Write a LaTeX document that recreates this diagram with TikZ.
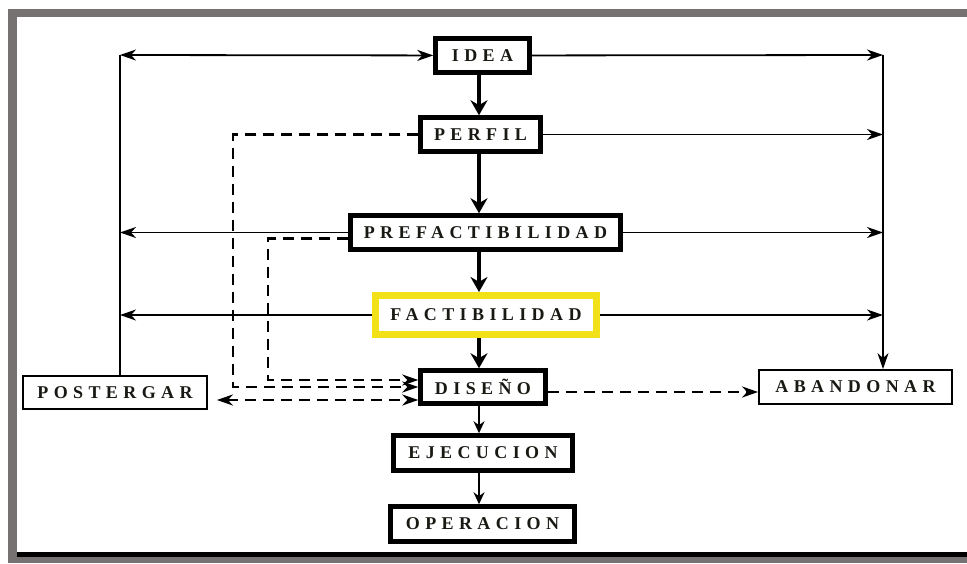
\documentclass[tikz,border=0pt]{standalone}
\usepackage{fontspec}
\usepackage{tikz}
\usetikzlibrary{arrows.meta}
\newfontfamily\etiqueta[LetterSpace=30]{Liberation Serif}
\definecolor{marco}{RGB}{118,114,113}
\definecolor{amarillo}{RGB}{242,224,24}
\definecolor{tinta}{RGB}{25,25,20}

\begin{document}
\begin{tikzpicture}[x=1pt,y=-1pt]
            \tikzstyle{etapa}=[draw,line width=4.5pt,fill=white,inner sep=0pt,text=tinta,font=\etiqueta\bfseries\fontsize{18}{20}\selectfont]
            \tikzstyle{salida}=[etapa,line width=1.8pt]
            \tikzstyle{flujo}=[line width=4pt,-{Stealth[length=15pt,width=17pt]}]
            \tikzstyle{paso}=[line width=2.2pt,-{Stealth[length=12pt,width=11pt]}]
            \tikzstyle{rama}=[line width=1.8pt,-{Stealth[length=16pt,width=11pt,inset=5pt]}]
            \tikzstyle{retorno}=[rama,line width=2.4pt,dash pattern=on 11pt off 7pt]
            \useasboundingbox (0,0) rectangle (967,563);
            \fill[white] (0,0) rectangle (967,563);
            \fill[marco] (8,9) rectangle (967,17);
            \fill[marco] (8,9) rectangle (17,563);
            \fill[marco] (8,557) rectangle (967,563);
            \fill[black] (17,552) rectangle (967,557);
            \node[etapa,minimum width=94pt,minimum height=34pt] (idea) at (482.5,55.5) {IDEA};
            \node[etapa,minimum width=120pt,minimum height=34pt] (perfil) at (480.5,134.5) {PERFIL};
            \node[etapa,minimum width=270pt,minimum height=34pt] (prefac) at (485.5,232.5) {PREFACTIBILIDAD};
            \node[etapa,draw=amarillo,line width=7pt,minimum width=221pt,minimum height=39pt] (factib) at (486,315) {FACTIBILIDAD};
            \node[etapa,minimum width=125pt,minimum height=33pt] (diseno) at (483,387) {DISEÑO};
            \node[etapa,minimum width=179pt,minimum height=35pt] (ejecucion) at (483,453) {EJECUCION};
            \node[etapa,minimum width=184pt,minimum height=35pt] (operacion) at (482.5,524) {OPERACION};
            \node[salida,minimum width=184pt,minimum height=33pt] (postergar) at (115,392.5) {POSTERGAR};
            \node[salida,minimum width=193pt,minimum height=34pt] (abandonar) at (855.5,387) {ABANDONAR};
            \coordinate (izq) at (120,55);
            \coordinate (der) at (883,55);
            \coordinate (eje) at (479,0);
            \draw[flujo] (idea.south -| eje) -- (perfil.north -| eje);
            \draw[flujo] (perfil.south -| eje) -- (prefac.north -| eje);
            \draw[flujo] (prefac.south -| eje) -- (factib.north -| eje);
            \draw[flujo] (factib.south -| eje) -- (diseno.north -| eje);
            \draw[paso] (diseno.south -| eje) -- (ejecucion.north -| eje);
            \draw[paso] (ejecucion.south -| eje) -- (operacion.north -| eje);
            \draw[rama,{Stealth[length=16pt,width=11pt,inset=5pt]}-{Stealth[length=16pt,width=11pt,inset=5pt]}] (izq) -- (idea);
            \draw[line width=1.8pt] (izq) -- (izq |- postergar.north);
            \draw[rama] (idea) -- (der);
            \draw[rama] (der) -- (der |- abandonar.north);
            \draw[rama] (perfil) -- (perfil -| der);
            \draw[rama] (prefac) -- (prefac -| der);
            \draw[rama] (prefac) -- (prefac -| izq);
            \draw[rama] (factib) -- (factib -| der);
            \draw[rama] (factib) -- (factib -| izq);
            \draw[retorno] (perfil.west) -- ++(-185,0) |- (diseno.west);
            \draw[retorno] ([yshift=-6pt]prefac.west) -- ++(-80,0) |- ([yshift=7pt]diseno.west);
            \draw[retorno,{Stealth[length=16pt,width=11pt,inset=5pt]}-{Stealth[length=16pt,width=11pt,inset=5pt]},shorten <=9pt] ([yshift=-13pt]diseno.west -| postergar.east) -- ([yshift=-13pt]diseno.west);
            \draw[retorno] ([yshift=-5pt]diseno.east) -- ([yshift=-5pt]diseno.east -| abandonar.west);
\end{tikzpicture}
\end{document}
